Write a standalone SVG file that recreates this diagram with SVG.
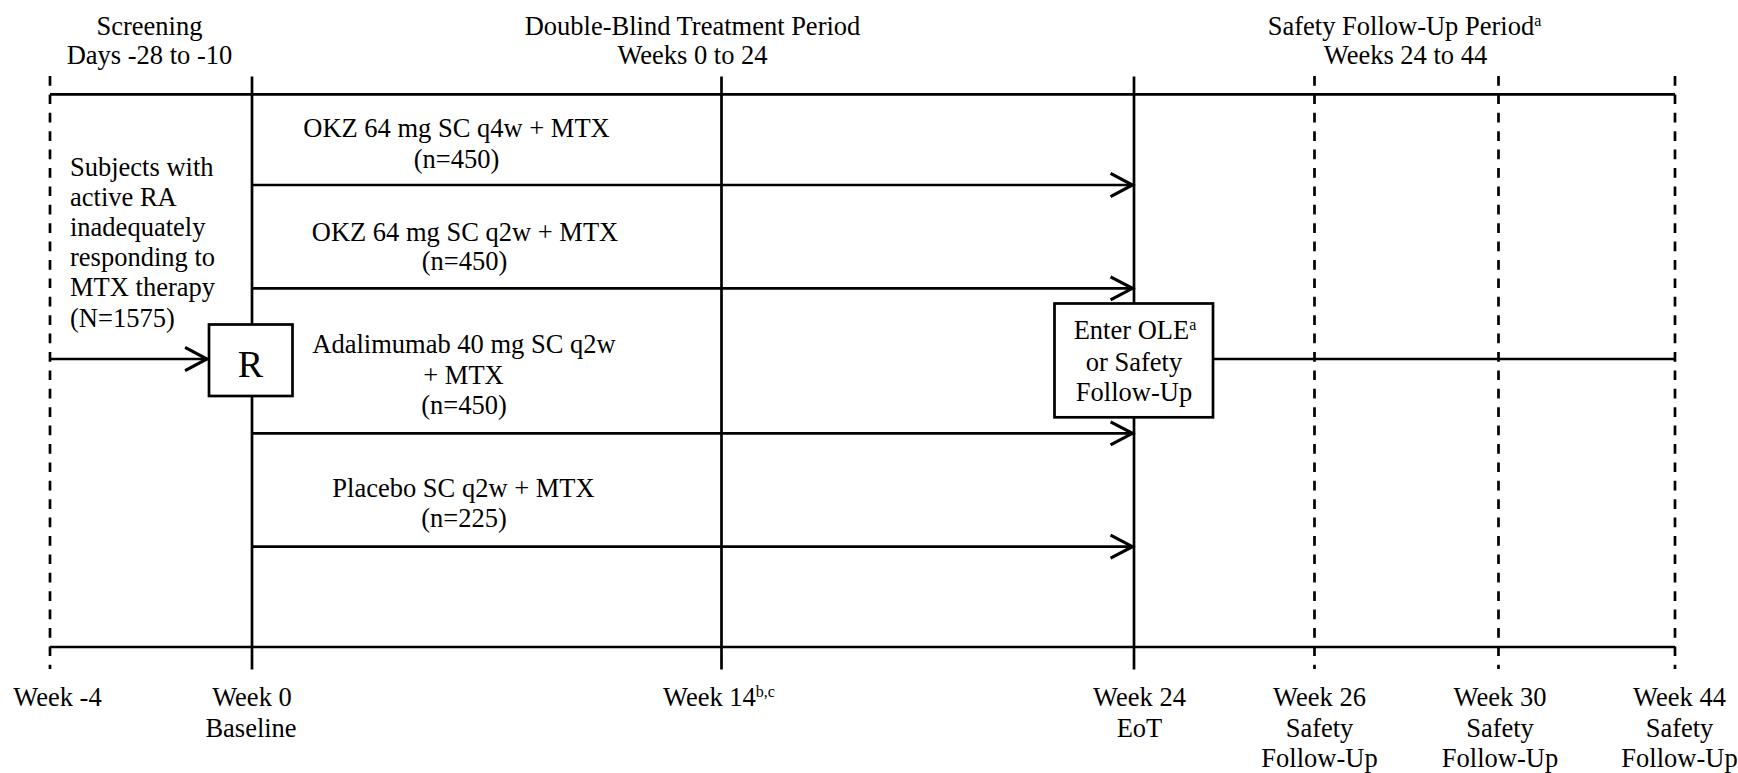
<svg xmlns="http://www.w3.org/2000/svg" width="1738" height="773" viewBox="0 0 1738 773">
<style>
text{font-family:"Liberation Serif","Times New Roman",Times,serif;font-size:26.5px;fill:#000}
.m{text-anchor:middle}
.sup{font-size:16px}
.ln{stroke:#000;stroke-width:2.7;fill:none}
.dash{stroke:#000;stroke-width:2.7;fill:none;stroke-dasharray:9.7 8.7}
.box{fill:#fff;stroke:#000;stroke-width:2.7}
</style>
<defs>
<marker id="arr" markerUnits="userSpaceOnUse" markerWidth="30" markerHeight="30" refX="0" refY="0" viewBox="-22 -13 26 26" orient="auto" overflow="visible">
<path d="M -19 -10 L 0 0 L -19 10" fill="none" stroke="#000" stroke-width="2.7"/>
</marker>
</defs>
<rect width="1738" height="773" fill="#fff"/>
<g id="headers">
<text class="m" x="149.5" y="35">Screening</text>
<text class="m" x="149.5" y="64">Days -28 to -10</text>
<text class="m" x="692.5" y="35">Double-Blind Treatment Period</text>
<text class="m" x="692.5" y="64">Weeks 0 to 24</text>
<text class="m" x="1404.5" y="35">Safety Follow-Up Period<tspan class="sup" dy="-9">a</tspan></text>
<text class="m" x="1405.5" y="64">Weeks 24 to 44</text>
</g>
<g id="timeline">
<line class="dash" x1="50" y1="76" x2="50" y2="669"/>
<line class="ln" x1="252" y1="76.5" x2="252" y2="669.5"/>
<line class="ln" x1="721.5" y1="76.5" x2="721.5" y2="669.5"/>
<line class="ln" x1="1134" y1="76.5" x2="1134" y2="669.5"/>
<line class="dash" x1="1314.5" y1="76" x2="1314.5" y2="669"/>
<line class="dash" x1="1498.5" y1="76" x2="1498.5" y2="669"/>
<line class="dash" x1="1675" y1="76" x2="1675" y2="669"/>
<line class="ln" x1="50" y1="94.3" x2="1675" y2="94.3"/>
<line class="ln" x1="50" y1="647" x2="1675" y2="647"/>
</g>
<g id="population">
<text x="70" y="175.5">Subjects with</text>
<text x="70" y="205.7">active RA</text>
<text x="70" y="235.9">inadequately</text>
<text x="70" y="266.1">responding to</text>
<text x="70" y="296.3">MTX therapy</text>
<text x="70" y="326.5">(N=1575)</text>
</g>
<g id="connectors">
<line class="ln" x1="50" y1="359" x2="207" y2="359" marker-end="url(#arr)"/>
<line class="ln" x1="252" y1="185" x2="1132.5" y2="185" marker-end="url(#arr)"/>
<line class="ln" x1="252" y1="288.3" x2="1132.5" y2="288.3" marker-end="url(#arr)"/>
<line class="ln" x1="252" y1="433.3" x2="1132.5" y2="433.3" marker-end="url(#arr)"/>
<line class="ln" x1="252" y1="546.7" x2="1132.5" y2="546.7" marker-end="url(#arr)"/>
<line class="ln" x1="1213" y1="359" x2="1675" y2="359"/>
</g>
<g id="node-R">
<rect class="box" x="209" y="324.5" width="83.5" height="71.5"/>
<text class="m" x="250.5" y="377" style="font-size:38px">R</text>
</g>
<g id="arm1">
<text class="m" x="456.5" y="137.3">OKZ 64 mg SC q4w + MTX</text>
<text class="m" x="456.5" y="168.3">(n=450)</text>
</g>
<g id="arm2">
<text class="m" x="465" y="240.7">OKZ 64 mg SC q2w + MTX</text>
<text class="m" x="464.5" y="270">(n=450)</text>
</g>
<g id="arm3">
<text class="m" x="464" y="353.3">Adalimumab 40 mg SC q2w</text>
<text class="m" x="463.5" y="384">+ MTX</text>
<text class="m" x="464" y="413.5">(n=450)</text>
</g>
<g id="arm4">
<text class="m" x="463.5" y="497.3">Placebo SC q2w + MTX</text>
<text class="m" x="464" y="526.7">(n=225)</text>
</g>
<g id="node-OLE">
<rect class="box" x="1054.5" y="303.5" width="158.5" height="113.8"/>
<text class="m" x="1135" y="339.3">Enter OLE<tspan class="sup" dy="-9">a</tspan></text>
<text class="m" x="1134" y="370.5">or Safety</text>
<text class="m" x="1134" y="400.7">Follow-Up</text>
</g>
<g id="week-labels">
<text class="m" x="57.5" y="705.5">Week -4</text>
<text class="m" x="252" y="705.5">Week 0</text>
<text class="m" x="251" y="736.5">Baseline</text>
<text x="663" y="705.5">Week 14<tspan class="sup" dy="-9">b,c</tspan></text>
<text class="m" x="1139.5" y="705.5">Week 24</text>
<text class="m" x="1139.5" y="736.5">EoT</text>
<text class="m" x="1319.5" y="705.5">Week 26</text>
<text class="m" x="1319.5" y="736.5">Safety</text>
<text class="m" x="1319.5" y="766.5">Follow-Up</text>
<text class="m" x="1500" y="705.5">Week 30</text>
<text class="m" x="1500" y="736.5">Safety</text>
<text class="m" x="1500" y="766.5">Follow-Up</text>
<text class="m" x="1679.5" y="705.5">Week 44</text>
<text class="m" x="1679.5" y="736.5">Safety</text>
<text class="m" x="1679.5" y="766.5">Follow-Up</text>
</g>
</svg>
